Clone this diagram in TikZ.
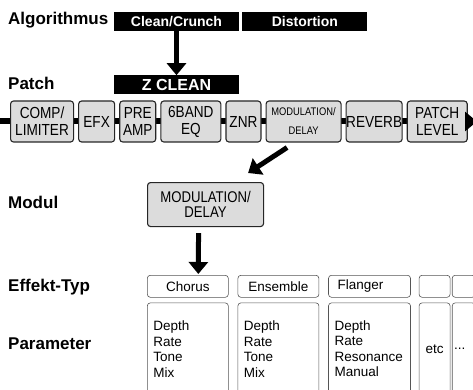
\documentclass[tikz,border=0pt]{standalone}
\usepackage{fontspec}
\setmainfont{Liberation Sans}
\newfontfamily\condfont[FakeStretch=0.85]{Liberation Sans}
\usepackage{tikz}
\usetikzlibrary{arrows.meta,positioning,backgrounds}
\definecolor{cblock}{HTML}{DCDCDC}
\definecolor{cframe}{HTML}{555555}

\begin{document}
\begin{tikzpicture}[
  x=1pt, y=1pt,
  node distance=4pt,
  heading/.style={anchor=base west, inner sep=0pt, font=\fontsize{17}{17}\selectfont\bfseries},
  banner/.style={rectangle, fill=black, text=white, minimum width=125pt, minimum height=19pt,
                 inner sep=0pt, font=\fontsize{14}{14}\selectfont\bfseries},
  block/.style={rectangle, rounded corners=3pt, draw=black!85, line width=1.1pt, fill=cblock,
                minimum height=41pt, inner sep=0pt, align=center, font=\condfont\fontsize{16}{17}\selectfont},
  fxtype/.style={rectangle, rounded corners=3pt, draw=cframe, line width=0.6pt,
                 minimum height=22pt, inner sep=0pt, font=\fontsize{13.5}{15.5}\selectfont},
  param/.style={rectangle, rounded corners=3pt, draw=cframe, line width=0.6pt,
                minimum height=92pt, inner sep=0pt, inner xsep=6pt, align=left,
                font=\fontsize{13.5}{15.5}\selectfont},
  arr/.style={-{Triangle[width=19pt,length=12pt]}, line width=5pt},
  chain/.style={line width=6pt}
]
\useasboundingbox (0,0) rectangle (473,-390);

% Row headings
\node[heading] (hAlg) at (8,-25) {Algorithmus};
\node[heading] (hPatch) at (8,-90) {Patch};
\node[heading] (hModul) at (8,-208) {Modul};
\node[heading] (hTyp) at (8,-291) {Effekt-Typ};
\node[heading] (hPar) at (8,-349) {Parameter};

% Algorithms and patch
\node[banner] (clean) at (176.5,-21.5) {Clean/Crunch};
\node[banner, right=3pt of clean] (dist) {Distortion};
\node[banner, below=44pt of clean, font=\fontsize{16}{16}\selectfont\bfseries] (zclean) {Z CLEAN};

% Effect chain
\coordinate (chainin) at (0,-121.5);
\coordinate (chainout) at (477,-121.5);
\node[block, minimum width=63pt, anchor=west] (comp) at (10,-121.5) {COMP/\\LIMITER};
\node[block, minimum width=36pt, right=of comp] (efx) {EFX};
\node[block, minimum width=36pt, right=of efx] (pre) {PRE\\AMP};
\node[block, minimum width=60pt, right=of pre] (eq) {6BAND\\EQ};
\node[block, minimum width=35pt, right=of eq] (znr) {ZNR};
\node[block, minimum width=75pt, right=of znr, font=\condfont\fontsize{11}{19}\selectfont] (modc) {MODULATION/\\DELAY};
\node[block, minimum width=56pt, right=of modc] (reverb) {REVERB};
\node[block, minimum width=60pt, right=of reverb] (patch) {PATCH\\LEVEL};

\begin{scope}[on background layer]
  \draw[chain] (chainin) -- (patch.west);
\end{scope}
\draw[arr, line width=6pt] (patch) -- (chainout);

% Module
\node[block, minimum width=116pt, minimum height=44pt, anchor=north west,
      font=\condfont\fontsize{15.5}{15.5}\selectfont] (modul) at (147,-182) {MODULATION/\\DELAY};

% Effect types
\node[fxtype, minimum width=81pt, anchor=north west] (chorus) at (147,-275) {Chorus};
\node[fxtype, minimum width=81pt, right=9pt of chorus] (ensemble) {Ensemble};
\node[fxtype, text width=64pt, inner xsep=9pt, align=left, right=9pt of ensemble] (flanger) {Flanger};
\node[fxtype, minimum width=31pt, right=8pt of flanger] (etc) {};
\node[fxtype, minimum width=23pt, right=1.5pt of etc] (more) {};

% Parameters
\node[param, text width=69pt, below=5pt of chorus] (pchorus) {Depth\\Rate\\Tone\\Mix};
\node[param, text width=69pt, below=5pt of ensemble] (pensemble) {Depth\\Rate\\Tone\\Mix};
\node[param, text width=70pt, below=5pt of flanger] (pflanger) {Depth\\Rate\\Resonance\\Manual};
\node[param, text width=19pt, align=center, below=5pt of etc] (petc) {etc};
\node[param, text width=19pt, inner xsep=2pt, below=5pt of more] (pmore) {...};

% Arrows
\draw[arr] (clean) -- (zclean);
\draw[arr] ([xshift=-16.5pt,yshift=-5pt]modc.south) -- ([xshift=-16pt,yshift=9pt]modul.north east);
\draw[arr] ([xshift=-7pt,yshift=-6pt]modul.south) -- ([xshift=10.5pt,yshift=1pt]chorus.north);

\end{tikzpicture}
\end{document}
